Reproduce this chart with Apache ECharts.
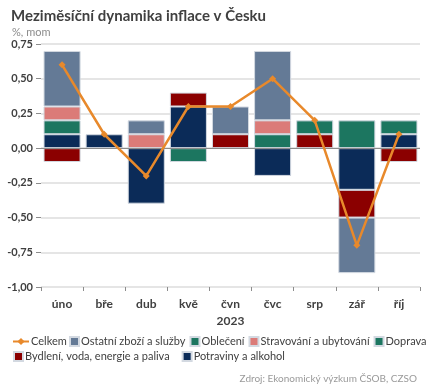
<!DOCTYPE html>
<html><head><meta charset="utf-8">
<script src="https://cdn.jsdelivr.net/npm/echarts@6/dist/echarts.min.js"></script>
<style>html,body{margin:0;padding:0;background:#fff}#c{width:433px;height:390px}</style>
</head><body><div id="c"></div>
<script>
var categories = ['úno','bře','dub','kvě','čvn','čvc','srp','zář','říj'];
var potraviny  = [0.1, 0.1, -0.4, 0.3, 0, -0.2, 0, -0.3, 0.1];
var bydleni    = [-0.1, 0, 0, 0.1, 0.1, 0, 0.1, -0.2, -0.1];
var doprava    = [0.1, 0, 0, -0.1, 0, 0.1, 0.1, 0.2, 0.1];
var stravovani = [0.1, 0, 0.1, 0, 0, 0.1, 0, 0, 0];
var obleceni   = [0, 0, 0, 0, 0, 0, 0, 0, 0];
var ostatni    = [0.4, 0, 0.1, 0, 0.2, 0.5, 0, -0.4, 0];
var celkem     = [0.6, 0.1, -0.2, 0.3, 0.3, 0.5, 0.2, -0.7, 0.1];
var yTicks = {min: -1, max: 0.75, interval: 0.25};

var FONT = 'Lato, "Noto Sans", sans-serif';
function nz(a){ return a.map(function(v){ return v === 0 ? '-' : v; }); }
function bar(name, data, color){
  return {name: name, type: 'bar', stack: 'a', data: nz(data), barCategoryGap: '12%',
    itemStyle: {color: color, borderColor: '#d3d9e1', borderWidth: 1}, z: 2};
}
var chart = echarts.init(document.getElementById('c'), null, {renderer: 'canvas'});
var series = [
  bar('Potraviny a alkohol', potraviny, '#0b2b58'),
  bar('Bydlení, voda, energie a paliva', bydleni, '#8b0000'),
  bar('Doprava', doprava, '#1c7660'),
  bar('Stravování a ubytování', stravovani, '#db7b78'),
  bar('Oblečení', obleceni, '#1c7660'),
  bar('Ostatní zboží a služby', ostatni, '#647a96'),
  {name: 'Celkem', type: 'line', data: celkem, z: 5,
   lineStyle: {color: '#e8892b', width: 2.5}, itemStyle: {color: '#e8892b'},
   symbol: 'diamond', symbolSize: 7, showSymbol: true}
];
series[0].markLine = {silent: true, symbol: 'none', label: {show: false},
  lineStyle: {color: '#8c8c8c', width: 1, type: 'solid'}, data: [{yAxis: 0}]};
var legendText = {fontFamily: FONT, fontSize: 11, color: '#404040', padding: [0, 0, 0, -3]};
var legendBase = {padding: 0, itemGap: 4, itemWidth: 9, itemHeight: 9, textStyle: legendText};
chart.setOption({
  animation: false,
  textStyle: {fontFamily: FONT},
  title: [
    {text: 'Meziměsíční dynamika inflace v Česku', left: 6, top: 4,
     textStyle: {fontFamily: FONT, fontSize: 15, fontWeight: 'bold', color: '#404040'}},
    {text: '%, mom', left: 7, top: 22,
     textStyle: {fontFamily: FONT, fontSize: 11, fontWeight: 'normal', color: '#8c8c8c'}},
    {text: 'Zdroj: Ekonomický výzkum ČSOB, CZSO', right: 11, top: 369,
     textStyle: {fontFamily: FONT, fontSize: 10, fontWeight: 'normal', color: '#9a9a9a'}}
  ],
  grid: {left: 41, right: 13, top: 44, bottom: 103, containLabel: false},
  xAxis: {type: 'category', data: categories,
    axisLine: {show: false, onZero: false},
    axisTick: {show: true, length: 4, lineStyle: {color: '#8c8c8c'}},
    axisLabel: {color: '#404040', fontSize: 12, fontWeight: 'bold', margin: 11, fontFamily: FONT},
    name: '2023', nameLocation: 'middle', nameGap: 27,
    nameTextStyle: {color: '#404040', fontSize: 12, fontWeight: 'bold', fontFamily: FONT}},
  yAxis: {type: 'value', min: yTicks.min, max: yTicks.max, interval: yTicks.interval,
    axisLine: {show: false},
    axisTick: {show: true, length: 5, lineStyle: {color: '#8c8c8c'}},
    axisLabel: {color: '#404040', fontSize: 11, margin: 8, fontFamily: FONT, fontWeight: 'bold',
      formatter: function(v){ return v.toFixed(2).replace('.', ','); }},
    splitLine: {lineStyle: {color: '#dcdcdc', width: 1.5}}},
  legend: [
    {padding: 0, left: 12, top: 336, itemWidth: 16, itemHeight: 9, textStyle: legendText,
     data: ['Celkem']},
    Object.assign({}, legendBase, {left: 69, top: 336, data: [
      {name: 'Ostatní zboží a služby', icon: 'rect'},
      {name: 'Oblečení', icon: 'rect'},
      {name: 'Stravování a ubytování', icon: 'rect'},
      {name: 'Doprava', icon: 'rect'}
    ]}),
    Object.assign({}, legendBase, {left: 13, top: 351, itemGap: 12, data: [
      {name: 'Bydlení, voda, energie a paliva', icon: 'rect'},
      {name: 'Potraviny a alkohol', icon: 'rect'}
    ]})
  ],
  series: series
});
</script></body></html>
